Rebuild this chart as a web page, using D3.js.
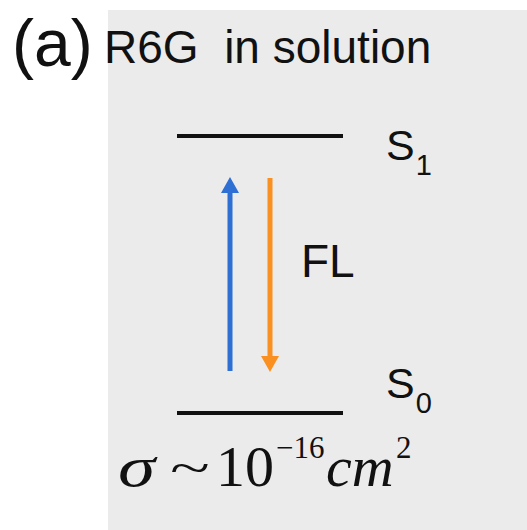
<!DOCTYPE html>
<html>
<head>
<meta charset="utf-8">
<script src="https://cdn.jsdelivr.net/npm/d3@7"></script>
<style>
  body { margin: 0; background: #fff; }
  svg { display: block; }
</style>
</head>
<body>
<div id="chart"></div>
<script>
// energy levels of the dye (relative energy, S0 = 0)
const levelNames = ["S1", "S0"];
const levelEnergy = [1, 0];

// optical transitions between the levels
const transitionNames = ["excitation", "FL"];
const transitionFrom = ["S0", "S1"];
const transitionTo = ["S1", "S0"];
const transitionLabels = ["", "FL"];
const transitionColors = ["#2d6fd2", "#fa9020"];

const panelLabel = "(a)";
const titleText = "R6G  in solution";

const width = 527, height = 530;

let svg = d3.select("#chart")
    .append("svg")
    .attr("width", width)
    .attr("height", height);

// grey panel
svg.append("rect")
    .attr("x", 108)
    .attr("y", 10)
    .attr("width", width - 108)
    .attr("height", height - 10)
    .attr("fill", "#ebebeb");

// scales
let y = d3.scaleLinear().domain([0, 1]).range([413, 136]);
let xLevel = d3.scaleLinear().domain([0, 1]).range([177, 343]);
let xArrow = d3.scalePoint().domain(transitionNames).range([230, 270]);

let levels = levelNames.map((d, i) => ({name: d, e: levelEnergy[i]}));
let energyOf = {};
levels.forEach(d => energyOf[d.name] = d.e);

let transitions = transitionNames.map((d, i) => ({
    name: d,
    from: energyOf[transitionFrom[i]],
    to: energyOf[transitionTo[i]],
    label: transitionLabels[i],
    color: transitionColors[i]
}));

// level lines
svg.selectAll("line.level")
    .data(levels)
    .enter()
    .append("line")
    .attr("class", "level")
    .attr("x1", xLevel(0))
    .attr("x2", xLevel(1))
    .attr("y1", d => y(d.e))
    .attr("y2", d => y(d.e))
    .attr("stroke", "#111")
    .attr("stroke-width", 4);

// level labels: S with subscript number
const labelDy = {S1: 24, S0: -15};
let lab = svg.selectAll("text.level")
    .data(levels)
    .enter()
    .append("text")
    .attr("class", "level")
    .attr("x", 386)
    .attr("y", d => y(d.e) + labelDy[d.name])
    .style("font-family", "'Liberation Sans', Arial, sans-serif")
    .style("font-size", "43px")
    .attr("fill", "#111");
lab.append("tspan").text(d => d.name[0]);
lab.append("tspan")
    .attr("dx", 1)
    .attr("dy", 15)
    .style("font-size", "29px")
    .text(d => d.name.slice(1));

// arrows
const inset = 42, headLen = 16, headW = 18;
let arrows = svg.selectAll("g.arrow")
    .data(transitions)
    .enter()
    .append("g")
    .attr("class", "arrow");

arrows.each(function(d) {
    let g = d3.select(this);
    let x0 = xArrow(d.name);
    let dir = d.to > d.from ? -1 : 1; // screen direction of travel
    let yStart = y(d.from) + dir * inset;
    let yTip = y(d.to) - dir * (inset - 1);
    g.append("line")
        .attr("x1", x0).attr("x2", x0)
        .attr("y1", yStart)
        .attr("y2", yTip - dir * headLen * 0.8)
        .attr("stroke", d.color)
        .attr("stroke-width", 5);
    g.append("path")
        .attr("d", `M${x0},${yTip} L${x0 - headW / 2},${yTip - dir * headLen} L${x0 + headW / 2},${yTip - dir * headLen} Z`)
        .attr("fill", d.color);
});

// transition label
svg.selectAll("text.trans")
    .data(transitions.filter(d => d.label))
    .enter()
    .append("text")
    .attr("class", "trans")
    .attr("x", d => xArrow(d.name) + 31)
    .attr("y", d => (y(d.from) + y(d.to)) / 2 + 2)
    .style("font-family", "'Liberation Sans', Arial, sans-serif")
    .style("font-size", "46px")
    .attr("fill", "#111")
    .text(d => d.label);

// panel label and title
svg.append("text")
    .attr("x", 12)
    .attr("y", 66)
    .style("font-family", "'Liberation Sans', Arial, sans-serif")
    .style("font-size", "66px")
    .attr("fill", "#111")
    .text(panelLabel);

svg.append("text")
    .attr("x", 104)
    .attr("y", 63)
    .style("font-family", "'Liberation Sans', Arial, sans-serif")
    .style("font-size", "46px")
    .style("white-space", "pre")
    .attr("xml:space", "preserve")
    .attr("fill", "#111")
    .text(titleText);

// cross section  sigma ~ 10^-16 cm^2
const serif = "'Liberation Serif', 'Times New Roman', serif";
const base = 486;
function piece(txt, x, yy, size, italic, sx) {
    return svg.append("text")
        .attr("transform", `translate(${x},${yy}) scale(${sx || 1},1)`)
        .style("font-family", serif)
        .style("font-size", size + "px")
        .style("font-style", italic ? "italic" : "normal")
        .attr("fill", "#111")
        .text(txt);
}
piece("σ", 118, base, 58, true, 1.3);
piece("~", 170, base - 3, 46, false, 1.6);
piece("10", 216, base, 58, false);
piece("−16", 276, base - 28, 31, false);
piece("cm", 326, base, 58, true);
piece("2", 396, base - 28, 31, false);
</script>
</body>
</html>
